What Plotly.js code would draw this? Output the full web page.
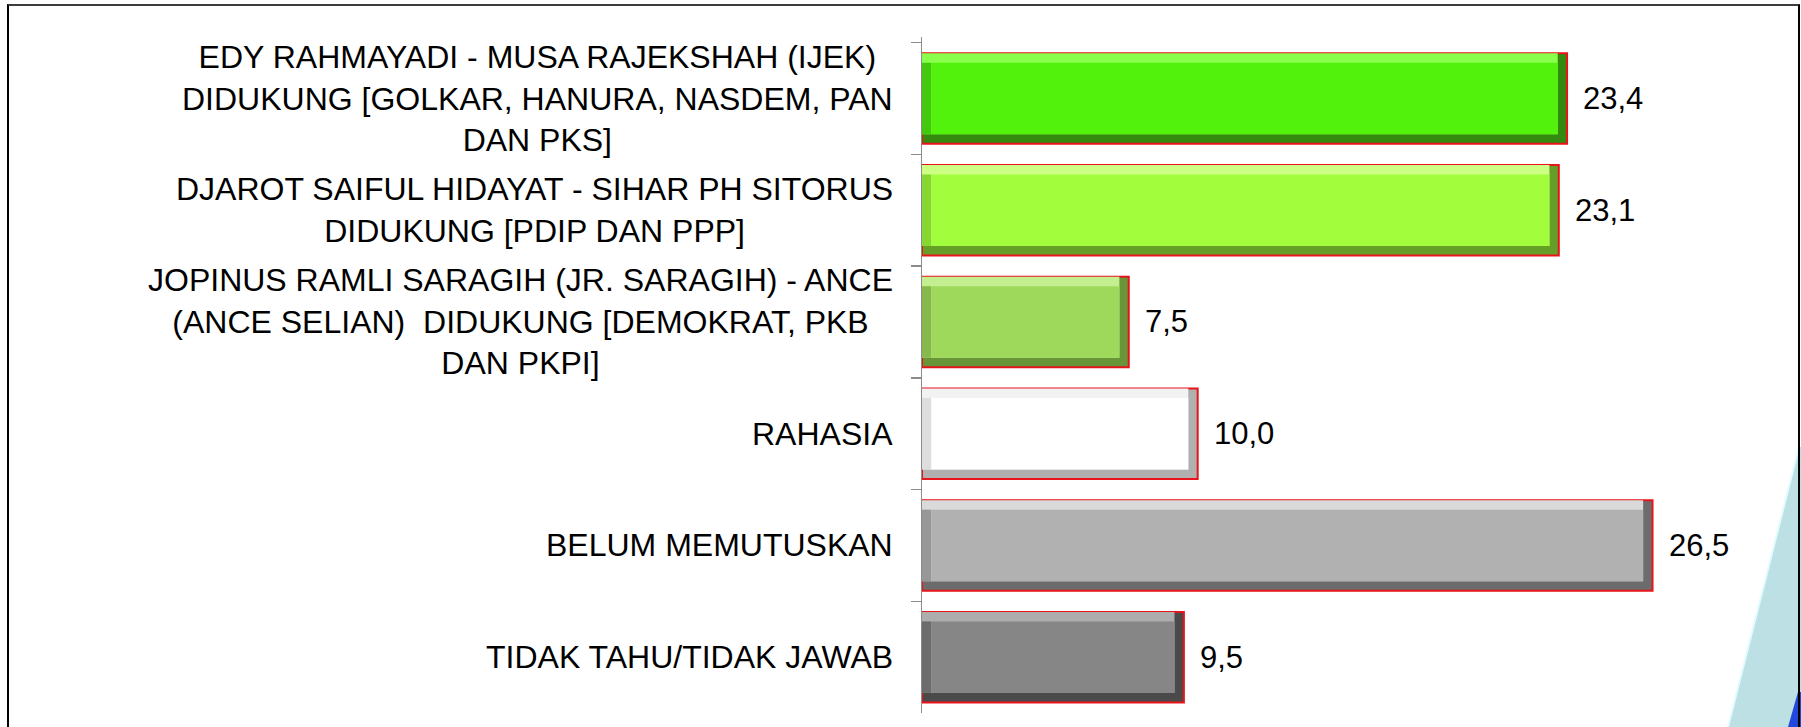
<!DOCTYPE html>
<html>
<head>
<meta charset="utf-8">
<script src="https://cdn.plot.ly/plotly-3.0.1.min.js"></script>
<style>
  html, body { margin:0; padding:0; background:#fff; overflow:hidden; }
  #wrap { position:relative; width:1801px; height:727px; }
  #chart { position:absolute; left:0; top:0; width:1801px; height:727px; }
  #deco { position:absolute; left:0; top:0; pointer-events:none; }
  #frame { position:absolute; left:7px; top:4px; width:1793px; height:740px; box-sizing:border-box;
           border-left:2px solid #000; border-top:2px solid #3c3c3c; border-right:2px solid #000; pointer-events:none; }
</style>
</head>
<body>
<div id="wrap">
  <div id="chart"></div>
  <svg id="deco" width="1801" height="727">
    <polygon points="1728,727 1799,447 1801,447 1801,727" fill="#bde0e4"/>
    <line x1="1728" y1="727" x2="1799" y2="447" stroke="#e2fbfd" stroke-width="2"/>
    <polygon points="1788,727 1798,692 1801,692 1801,727" fill="#2346dc"/>
  </svg>
  <div id="frame"></div>
</div>
<script>
// ---- data ----
const categories = [
  "EDY RAHMAYADI - MUSA RAJEKSHAH (IJEK)<br>DIDUKUNG [GOLKAR, HANURA, NASDEM, PAN<br>DAN PKS]",
  "DJAROT SAIFUL HIDAYAT - SIHAR PH SITORUS<br>DIDUKUNG [PDIP DAN PPP]",
  "JOPINUS RAMLI SARAGIH (JR. SARAGIH) - ANCE<br>(ANCE SELIAN)\u00a0 DIDUKUNG [DEMOKRAT, PKB<br>DAN PKPI]",
  "RAHASIA",
  "BELUM MEMUTUSKAN",
  "TIDAK TAHU/TIDAK JAWAB"
];
const values = [23.4, 23.1, 7.5, 10.0, 26.5, 9.5];

// ---- styles ----
const faceColors  = ["#52f20c", "#a2fd3c", "#9fd95c", "#ffffff", "#b1b1b1", "#868686"];
const lightColors = ["#8aff4c", "#ccff84", "#c4ef90", "#f2f2f2", "#dadada", "#adadad"];
const midColors   = ["#44c80e", "#88d632", "#86b84c", "#dedede", "#979797", "#6c6c6c"];
const darkColors  = ["#338a0f", "#669f28", "#679538", "#b0b0b0", "#6c6c6c", "#4a4a4a"];
const FONT = '"Liberation Sans", Arial, sans-serif';
const BAR_W = 0.81;     // category units
const BEV_Y = 0.085;    // category units
const BEV_X = 0.34;     // value units

const traces = [
  { // full bar with dark bevel + red outline
    type:'bar', orientation:'h', y:categories, x:values, width:BAR_W,
    marker:{ color:darkColors, line:{ color:'#e8141a', width:2 } },
    hoverinfo:'skip'
  },
  { // light top bevel
    type:'bar', orientation:'h', y:categories, x:values.map(v => v - BEV_X),
    width:BAR_W - BEV_Y, offset:-BAR_W/2,
    marker:{ color:lightColors, line:{ width:0 } }, hoverinfo:'skip'
  },
  { // left bevel
    type:'bar', orientation:'h', y:categories, x:values.map(() => BEV_X),
    width:BAR_W - 2*BEV_Y,
    marker:{ color:midColors, line:{ width:0 } }, hoverinfo:'skip'
  },
  { // face
    type:'bar', orientation:'h', y:categories, base:BEV_X, x:values.map(v => v - 2*BEV_X),
    width:BAR_W - 2*BEV_Y,
    marker:{ color:faceColors, line:{ width:0 } }, hoverinfo:'skip'
  }
];

const annotations = [];
categories.forEach((c, i) => {
  annotations.push({
    xref:'paper', x:0, yref:'y', y:c, xanchor:'right', yanchor:'middle',
    xshift:-27, align:'center', showarrow:false, text:c,
    font:{ family:FONT, size:32, color:'#000' }
  });
  annotations.push({
    xref:'x', x:values[i], yref:'y', y:c, xanchor:'left', yanchor:'middle',
    xshift:14, showarrow:false, text:values[i].toFixed(1).replace('.', ','),
    font:{ family:FONT, size:31, color:'#000' }
  });
});

const layout = {
  width:1801, height:727,
  margin:{ l:922, r:52, t:37, b:14, pad:0 },
  paper_bgcolor:'rgba(0,0,0,0)', plot_bgcolor:'rgba(0,0,0,0)',
  barmode:'overlay', showlegend:false,
  separators:',.',
  xaxis:{ range:[0,30], visible:false, fixedrange:true },
  yaxis:{
    type:'category', categoryarray:categories, autorange:'reversed',
    showticklabels:false, ticks:'outside', tickson:'boundaries', ticklen:10,
    tickcolor:'#8c8c8c', tickwidth:1.5, showline:true, linecolor:'#8c8c8c', linewidth:1.5,
    showgrid:false, zeroline:false, fixedrange:true
  },
  annotations:annotations,
  font:{ family:FONT }
};

Plotly.newPlot('chart', traces, layout, { displayModeBar:false, staticPlot:true });
</script>
</body>
</html>
